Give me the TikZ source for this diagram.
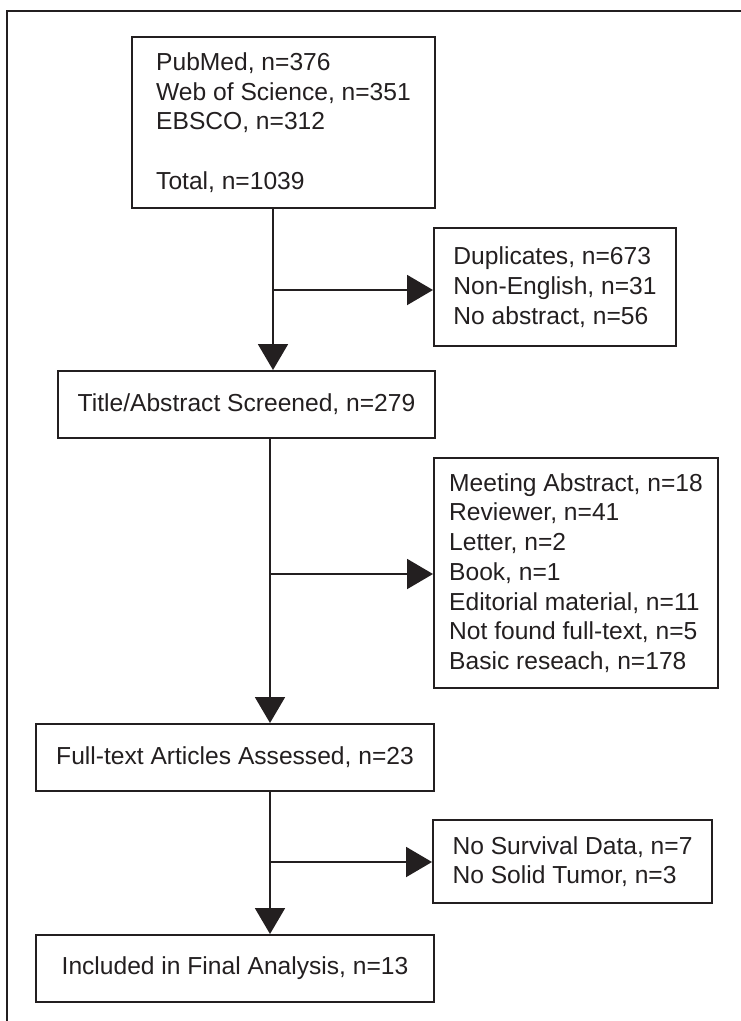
\documentclass[tikz,border=0pt]{standalone}
\usepackage{fontspec}
\setmainfont{Liberation Sans}
\usepackage{tikz}
\usepackage{color}
\usetikzlibrary{positioning, calc, arrows.meta}
\definecolor{ink}{RGB}{35,31,32}
\tikzset{
    stagebox/.style={draw=ink, line width=2pt, text=ink, inner sep=0pt, font=\fontsize{24.6}{29.7}\selectfont},
    sidebox/.style={stagebox, align=left},
    flowline/.style={draw=ink, line width=2pt, -{Triangle[length=26pt,width=30pt]}}
}

\begin{document}
\begin{tikzpicture}[x=1pt, y=-1pt]
                    \useasboundingbox (0,0) rectangle (741,1021);
                    \draw[ink, line width=2pt] (7,1021) -- (7,11) -- (741,11);
                    \node[stagebox, align=left, minimum width=303pt, minimum height=171pt] (src) at (283.5,122.5) {PubMed, n=376\\Web of Science, n=351\\EBSCO, n=312\\[29.7pt]Total, n=1039};
                    \node[stagebox, minimum width=377pt, minimum height=67pt] (title) at (246.5,404.5) {Title/Abstract Screened, n=279};
                    \node[stagebox, minimum width=398pt, minimum height=67pt] (full) at (235,757.5) {Full-text Articles Assessed, n=23};
                    \node[stagebox, minimum width=398pt, minimum height=67pt] (incl) at (235,968.5) {Included in Final Analysis, n=13};
                    \node[sidebox, minimum width=242pt, minimum height=118pt] (dup) at (555,287) {Duplicates, n=673\\Non-English, n=31\\No abstract, n=56};
                    \node[sidebox, minimum width=284pt, minimum height=230pt] (excl) at (576,573) {Meeting Abstract, n=18\\Reviewer, n=41\\Letter, n=2\\Book, n=1\\Editorial material, n=11\\Not found full-text, n=5\\Basic reseach, n=178};
                    \node[sidebox, minimum width=279pt, minimum height=83pt] (surv) at (572.5,861.5) {No Survival Data, n=7\\No Solid Tumor, n=3};
                    \coordinate (jA) at (273,290);
                    \coordinate (jB) at (270,574);
                    \coordinate (jC) at (270,862);
                    \draw[flowline] (jA |- src.south) -- (jA |- title.north);
                    \draw[flowline] (jA) -- (jA -| dup.west);
                    \draw[flowline] (jB |- title.south) -- (jB |- full.north);
                    \draw[flowline] (jB) -- (jB -| excl.west);
                    \draw[flowline] (jC |- full.south) -- (jC |- incl.north);
                    \draw[flowline] (jC) -- (jC -| surv.west);
                \end{tikzpicture}
\end{document}
